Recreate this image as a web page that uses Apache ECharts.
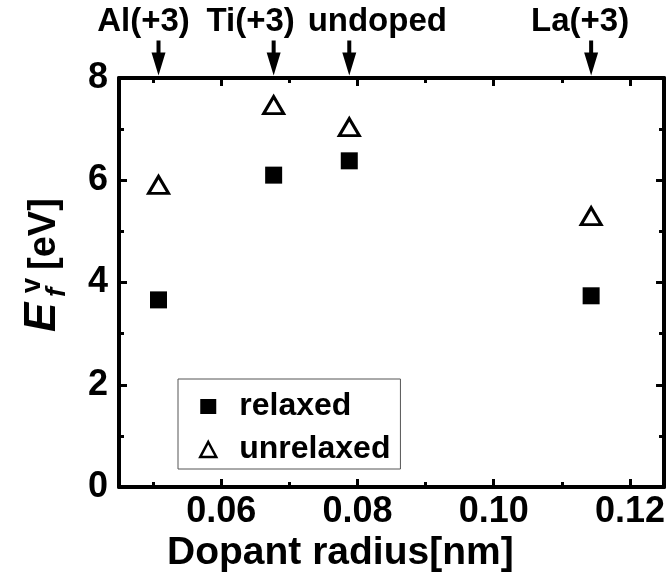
<!DOCTYPE html>
<html>
<head>
<meta charset="utf-8">
<script src="https://cdn.jsdelivr.net/npm/echarts@6/dist/echarts.min.js"></script>
<style>
html, body { margin: 0; padding: 0; background: #fff; }
#chart { width: 668px; height: 575px; }
</style>
</head>
<body>
<div id="chart"></div>
<script>
var dopants = ['Al(+3)', 'Ti(+3)', 'undoped', 'La(+3)'];
var radius = [0.0508, 0.0677, 0.0788, 0.1143];
var relaxed = [3.66, 6.10, 6.38, 3.74];
var unrelaxed = [5.91, 7.47, 7.04, 5.30];
var xMajorTicks = [0.06, 0.08, 0.10, 0.12];
var xMinorTicks = [0.05, 0.07, 0.09, 0.11];

var font = 'Liberation Sans, Arial, sans-serif';

function pairs(ys) {
	var out = [];
	for (var i = 0; i < radius.length; i++) {
		out.push([radius[i], ys[i]]);
	}
	return out;
}

// labels above the arrows are pushed sideways so they don't collide
var labelShift = {'Al(+3)': -15, 'Ti(+3)': -23, 'undoped': 28, 'La(+3)': -11};

function arrowData() {
	var out = [];
	for (var i = 0; i < dopants.length; i++) {
		out.push({
			name: dopants[i],
			value: [radius[i], 8],
			label: {offset: [labelShift[dopants[i]], 0]}
		});
	}
	return out;
}

function xAxisPart(pos, ticks, len, showLine, showLabel) {
	return {
		type: 'value', position: pos, min: 0.045, max: 0.125,
		axisLine: {show: showLine, onZero: false, lineStyle: {color: '#000', width: 4}},
		axisTick: {show: true, inside: true, length: len, customValues: ticks, lineStyle: {color: '#000', width: 3}},
		axisLabel: {show: showLabel, customValues: xMajorTicks, margin: 7,
			fontFamily: font, fontWeight: 'bold', fontSize: 36, color: '#000',
			formatter: function(v) { return v.toFixed(2); }},
		splitLine: {show: false}
	};
}

function yAxisPart(pos, showLabel) {
	return {
		type: 'value', position: pos, min: 0, max: 8, interval: 2,
		axisLine: {show: true, lineStyle: {color: '#000', width: 4}},
		axisTick: {show: true, inside: true, length: 8, lineStyle: {color: '#000', width: 3}},
		minorTick: {show: true, splitNumber: 2, length: 5, lineStyle: {color: '#000', width: 3}},
		axisLabel: {show: showLabel, margin: 11, fontFamily: font, fontWeight: 'bold', fontSize: 36, color: '#000'},
		splitLine: {show: false}
	};
}

var myChart = echarts.init(document.getElementById('chart'), null, {renderer: 'canvas'});
var option = {
	backgroundColor: '#fff',
	animation: false,
	grid: {left: 119, top: 78, width: 546, height: 409},
	xAxis: [
		xAxisPart('bottom', xMajorTicks, 8, true, true),
		xAxisPart('top', xMajorTicks, 8, true, false),
		xAxisPart('bottom', xMinorTicks, 5, false, false),
		xAxisPart('top', xMinorTicks, 5, false, false)
	],
	yAxis: [
		yAxisPart('left', true),
		yAxisPart('right', false)
	],
	legend: {
		orient: 'vertical', left: 178, top: 379,
		padding: [11, 10, 3, 21],
		itemGap: 10, itemWidth: 16, itemHeight: 15,
		borderColor: '#555', borderWidth: 1, backgroundColor: '#fff',
		textStyle: {fontFamily: font, fontWeight: 'bold', fontSize: 32, color: '#000', lineHeight: 33, padding: [0, 0, 0, 18]},
		data: [
			{name: 'relaxed', icon: 'rect', itemStyle: {color: '#000', borderWidth: 0, opacity: 1}},
			{name: 'unrelaxed', icon: 'triangle', itemStyle: {color: '#fff', borderColor: '#000', borderWidth: 2.5, opacity: 1}}
		]
	},
	graphic: [
		{
			type: 'group', x: 0, y: 332, rotation: Math.PI / 2,
			children: [
				{type: 'text', x: 0, y: 65, style: {text: 'E', font: 'italic bold 44px ' + font, fill: '#000', textVerticalAlign: 'bottom'}},
				{type: 'text', x: 39, y: 46, style: {text: 'v', font: 'bold 27px ' + font, fill: '#000', textVerticalAlign: 'bottom'}},
				{type: 'text', x: 35, y: 71, style: {text: 'f', font: 'italic bold 28px ' + font, fill: '#000', textVerticalAlign: 'bottom'}},
				{type: 'text', x: 62, y: 64, style: {text: '[eV]', font: 'bold 38px ' + font, fill: '#000', textVerticalAlign: 'bottom'}}
			]
		},
		{
			type: 'text', left: 167, top: 534,
			style: {text: 'Dopant radius[nm]', font: 'bold 39px ' + font, fill: '#000'}
		}
	],
	series: [
		{
			name: 'relaxed', type: 'scatter', symbol: 'rect', symbolSize: 17,
			itemStyle: {color: '#000', opacity: 1},
			data: pairs(relaxed)
		},
		{
			name: 'unrelaxed', type: 'scatter', symbol: 'triangle', symbolSize: [20, 17],
			itemStyle: {color: '#fff', borderColor: '#000', borderWidth: 3, opacity: 1},
			data: pairs(unrelaxed)
		},
		{
			name: 'dopant', type: 'scatter', clip: false, silent: true,
			symbol: 'path://M4.5,0 L8.5,0 L8.5,12 L13.5,12 L6.5,35 L-0.5,12 L4.5,12 Z',
			symbolSize: [14, 35], symbolOffset: [0, -20],
			itemStyle: {color: '#000', opacity: 1},
			label: {show: true, position: 'top', distance: 2, formatter: '{b}',
				fontFamily: font, fontWeight: 'bold', fontSize: 33, color: '#000'},
			data: arrowData()
		}
	]
};
myChart.setOption(option);
</script>
</body>
</html>
